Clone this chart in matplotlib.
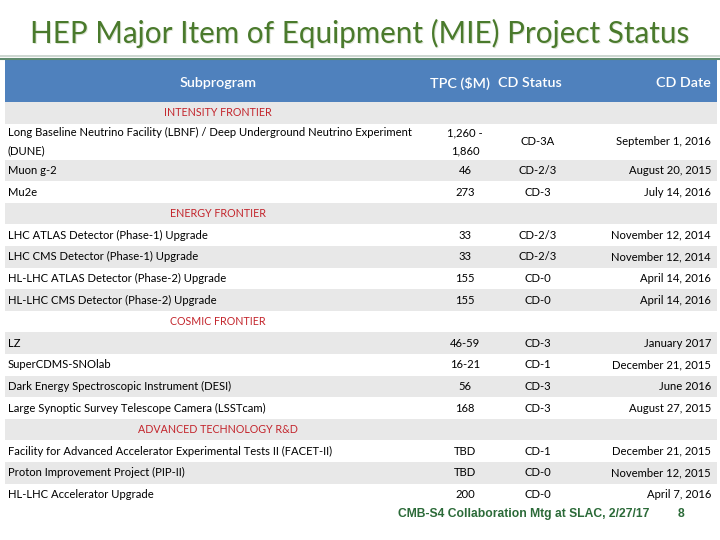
import matplotlib.pyplot as plt
from matplotlib.patches import Rectangle

title = 'HEP Major Item of Equipment (MIE) Project Status'
headers = ['Subprogram', 'TPC ($M)', 'CD Status', 'CD Date']

sections = ['INTENSITY FRONTIER', 'ENERGY FRONTIER', 'COSMIC FRONTIER', 'ADVANCED TECHNOLOGY R&D']
# (subprogram, tpc, status, date)
intensity = [
    ('Long Baseline Neutrino Facility (LBNF) / Deep Underground Neutrino Experiment\n(DUNE)',
     '1,260 -\n1,860', 'CD-3A', 'September 1, 2016'),
    ('Muon g-2', '46', 'CD-2/3', 'August 20, 2015'),
    ('Mu2e', '273', 'CD-3', 'July 14, 2016'),
]
energy = [
    ('LHC ATLAS Detector (Phase-1) Upgrade', '33', 'CD-2/3', 'November 12, 2014'),
    ('LHC CMS Detector (Phase-1) Upgrade', '33', 'CD-2/3', 'November 12, 2014'),
    ('HL-LHC ATLAS Detector (Phase-2) Upgrade', '155', 'CD-0', 'April 14, 2016'),
    ('HL-LHC CMS Detector (Phase-2) Upgrade', '155', 'CD-0', 'April 14, 2016'),
]
cosmic = [
    ('LZ', '46-59', 'CD-3', 'January 2017'),
    ('SuperCDMS-SNOlab', '16-21', 'CD-1', 'December 21, 2015'),
    ('Dark Energy Spectroscopic Instrument (DESI)', '56', 'CD-3', 'June 2016'),
    ('Large Synoptic Survey Telescope Camera (LSSTcam)', '168', 'CD-3', 'August 27, 2015'),
]
advanced = [
    ('Facility for Advanced Accelerator Experimental Tests II (FACET-II)', 'TBD', 'CD-1', 'December 21, 2015'),
    ('Proton Improvement Project (PIP-II)', 'TBD', 'CD-0', 'November 12, 2015'),
    ('HL-LHC Accelerator Upgrade', '200', 'CD-0', 'April 7, 2016'),
]
footer = 'CMB-S4 Collaboration Mtg at SLAC, 2/27/17'
page = '8'

fnt = ['Lato', 'DejaVu Sans']
narrow = ['Liberation Sans Narrow', 'Liberation Sans', 'DejaVu Sans']
blue = '#4f81bd'
grey = '#e8e8e8'
red = '#c3242b'
green = '#4a7a2c'

fig = plt.figure(figsize=(7.2, 5.4), dpi=100)
ax = fig.add_axes([0, 0, 1, 1])
ax.set_xlim(0, 720)
ax.set_ylim(540, 0)
ax.axis('off')

# title with a faint shadow
ax.text(361, 34, title, ha='center', va='center', fontsize=21.3, color='#dde5d6', family=fnt)
ax.text(360, 33, title, ha='center', va='center', fontsize=21.3, color=green, family=fnt)
ax.plot([0, 720], [56, 56], color='#c3d0c8', lw=1.2)
ax.plot([0, 720], [58.5, 58.5], color='#5f8a6e', lw=1.5)

x0, x1 = 5, 717
colx = [218, 460, 530, 711]
valx = [8, 465, 538, 711]

# header band
ax.add_patch(Rectangle((x0, 60), x1 - x0, 42, color=blue, lw=0))
for i, h in enumerate(headers):
    ax.text(colx[i], 83, h, ha='right' if i == 3 else 'center', va='center',
            fontsize=10.3, color='white', fontweight='semibold', family=fnt)

rows = []
for name, items in zip(sections, [intensity, energy, cosmic, advanced]):
    rows.append(('section', name))
    for it in items:
        rows.append(('item', it))

fs = 8.1
y = 102
for k, (kind, content) in enumerate(rows):
    h = 36 if kind == 'item' and '\n' in content[0] else 21.6
    if k % 2 == 0:
        ax.add_patch(Rectangle((x0, y), x1 - x0, h, color=grey, lw=0))
    yc = y + h / 2
    if kind == 'section':
        ax.text(colx[0], yc, content, ha='center', va='center', fontsize=7.7,
                color=red, family=fnt)
    else:
        ax.text(valx[0], yc, content[0], ha='left', va='center', fontsize=fs,
                color='black', family=fnt, linespacing=1.75)
        ax.text(valx[1], yc, content[1], ha='center', va='center', fontsize=fs,
                color='black', family=fnt, linespacing=1.75)
        ax.text(valx[2], yc, content[2], ha='center', va='center', fontsize=fs,
                color='black', family=fnt)
        ax.text(valx[3], yc, content[3], ha='right', va='center', fontsize=fs,
                color='black', family=fnt)
    y += h

ax.text(398, 514, footer, ha='left', va='center', fontsize=8.7, color='#2b6a38',
        fontweight='bold', family=narrow)
ax.text(681, 514, page, ha='center', va='center', fontsize=8.7, color='#2b6a38',
        fontweight='bold', family=narrow)

fig.savefig('out.png', dpi=100)
